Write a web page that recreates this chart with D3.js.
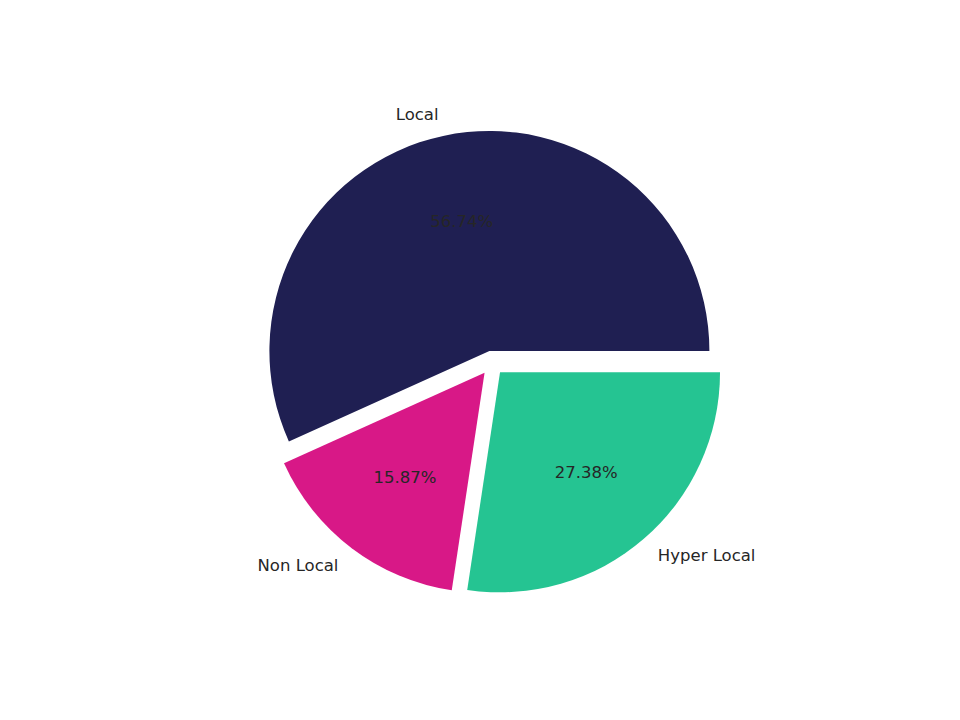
<!DOCTYPE html>
<html>
<head>
<meta charset="utf-8">
<script src="https://cdn.jsdelivr.net/npm/d3@7"></script>
<style>
  body { margin: 0; background: #fff; }
</style>
</head>
<body>
<div id="chart"></div>
<script>
const categories = ["Local", "Non Local", "Hyper Local"];
const shares = [56.74, 15.87, 27.38];
const colors = ["#1f1f52", "#d81887", "#25c492"];
const explode = [0.056, 0.056, 0.056];

const width = 960;
const height = 720;
const cx = 492, cy = 363;
const radius = 220;

const svg = d3.select("#chart")
    .append("svg")
    .attr("width", width)
    .attr("height", height)
    .style("font-family", "'DejaVu Sans', sans-serif");

const data = categories.map((c, i) => ({ name: c, value: shares[i], color: colors[i], explode: explode[i] }));

// matplotlib style: start at 3 o'clock, counter clockwise
const pie = d3.pie()
    .sort(null)
    .value(d => d.value)
    .startAngle(Math.PI / 2)
    .endAngle(Math.PI / 2 - 2 * Math.PI);

const arc = d3.arc().innerRadius(0).outerRadius(radius);

const arcs = pie(data);

const g = svg.append("g").attr("transform", `translate(${cx},${cy})`);

// d3 angle: 0 at 12 o'clock, clockwise; position = (sin a, -cos a)
function dir(d) {
    const a = (d.startAngle + d.endAngle) / 2;
    return [Math.sin(a), -Math.cos(a)];
}

const slices = g.selectAll(".slice")
    .data(arcs)
    .enter()
    .append("g")
    .attr("class", "slice")
    .attr("transform", d => {
        const [x, y] = dir(d);
        const off = d.data.explode * radius;
        return `translate(${x * off},${y * off})`;
    });

slices.append("path")
    .attr("d", arc)
    .attr("fill", d => d.data.color);

slices.append("text")
    .attr("x", d => dir(d)[0] * radius * 1.1)
    .attr("y", d => dir(d)[1] * radius * 1.1)
    .attr("dy", "0.33em")
    .attr("text-anchor", d => dir(d)[0] < 0 ? "end" : "start")
    .attr("font-size", "16.5px")
    .attr("fill", "#262626")
    .text(d => d.data.name);

slices.append("text")
    .attr("x", d => dir(d)[0] * radius * 0.6)
    .attr("y", d => dir(d)[1] * radius * 0.6)
    .attr("dy", "0.33em")
    .attr("text-anchor", "middle")
    .attr("font-size", "16.5px")
    .attr("fill", "#262626")
    .text(d => d.data.value.toFixed(2) + "%");
</script>
</body>
</html>
